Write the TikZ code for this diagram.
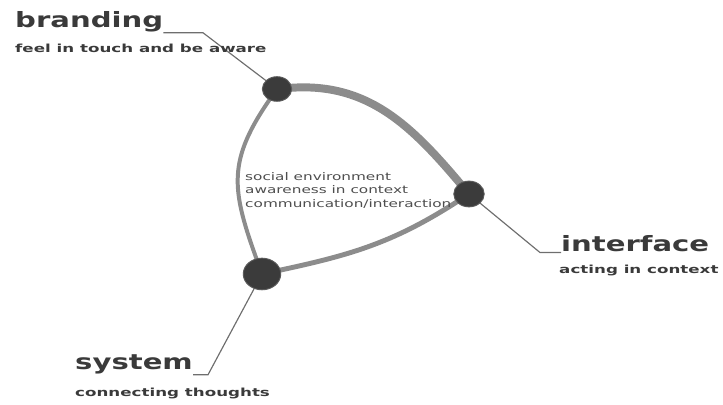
\documentclass[tikz,border=0pt]{standalone}
\usepackage{fontspec}
\newfontfamily\titlefont{DejaVu Sans}[FakeStretch=1.38]
\newfontfamily\subfont{DejaVu Sans}[FakeStretch=1.5]
\newfontfamily\midfont{DejaVu Sans}[FakeStretch=1.45]
\usepackage{tikz}
\usetikzlibrary{
    calc,
    shapes.geometric
}
\pgfdeclarelayer{background}
\pgfsetlayers{background,main}
\definecolor{loopgray}{HTML}{8C8C8C}
\definecolor{leadgray}{HTML}{6E6E6E}
\definecolor{spotfill}{HTML}{3B3B3B}
\definecolor{spotedge}{HTML}{5A5A5A}
\definecolor{textgray}{HTML}{3A3A3A}
\definecolor{midgray}{HTML}{4E4E4E}
\tikzset{
    % dark spots sitting on the loop
    spot/.style={
        ellipse, draw=spotedge, fill=spotfill, line width=0.8pt, inner sep=0pt
    },
    % grey band between the spots
    band/.style={
        draw=loopgray, line cap=butt, shorten <=-4pt, shorten >=-4pt
    },
    leader/.style={draw=leadgray, line width=1pt},
    title/.style={
        anchor=base west, inner sep=0pt, text=textgray,
        font=\titlefont\bfseries\fontsize{18}{20}\selectfont
    },
    subtitle/.style={
        anchor=base west, inner sep=0pt, text=textgray,
        font=\subfont\bfseries\fontsize{9.5}{11}\selectfont
    },
    midtext/.style={
        anchor=north west, inner sep=0pt, align=left, text=midgray,
        font=\midfont\fontsize{9}{11.5}\selectfont
    }
}

\begin{document}
\begin{tikzpicture}[x=0.03cm, y=0.03cm]
    \useasboundingbox (0,0) rectangle (723,405);
    \node[spot, minimum width=25pt, minimum height=21pt] (brand) at (277,316) {};
    \node[spot, minimum width=26pt, minimum height=22pt] (iface) at (469,211) {};
    \node[spot, minimum width=32pt, minimum height=27pt] (sys) at (262,131) {};

    \node[title] (brandtitle) at (15,377) {branding};
    \node[subtitle] (brandsub) at (15,352) {feel in touch and be aware};
    \node[title] (ifacetitle) at (561,153) {interface};
    \node[subtitle] (ifacesub) at (559,131) {acting in context};
    \node[title] (systitle) at (75,35) {system};
    \node[subtitle] (syssub) at (75,8) {connecting thoughts};
    \node[midtext] (inner) at (245,233)
        {social environment\\awareness in context\\communication/interaction};

    \coordinate (brandknee) at (203,0);
    \coordinate (ifaceknee) at (540,0);
    \coordinate (sysknee) at (208,0);

    \begin{pgfonlayer}{background}
        \draw[band, line width=6.8pt] (brand) to[out=5, in=130] (iface);
        \draw[band, line width=4.2pt] (iface) to[out=213, in=12] (sys);
        \draw[band, line width=3.4pt] (sys) to[out=110, in=235, looseness=1.2] (brand);
        \draw[leader] (brand.center) -- (brandknee |- brandtitle.south) -- (brandtitle.south east);
        \draw[leader] (iface.center) -- (ifaceknee |- ifacetitle.south) -- (ifacetitle.south west);
        \draw[leader] (sys.center) -- (sysknee |- systitle.south) -- (systitle.south east);
    \end{pgfonlayer}
\end{tikzpicture}
\end{document}
